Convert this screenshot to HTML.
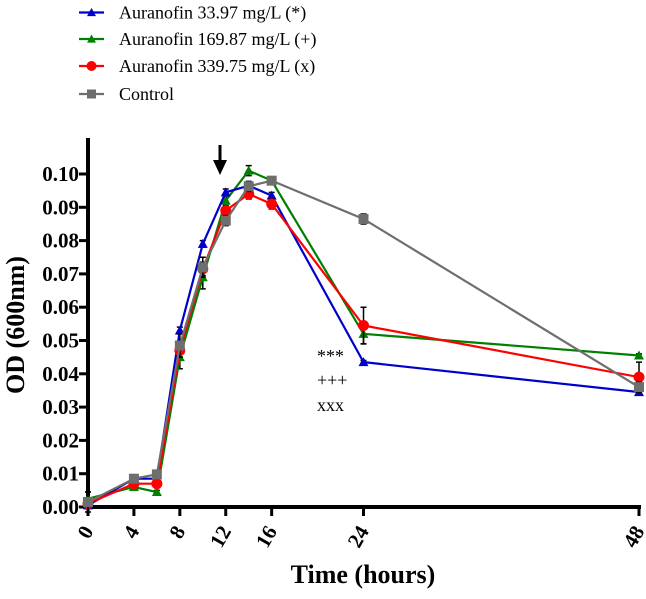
<!DOCTYPE html>
<html><head><meta charset="utf-8"><style>
html,body{margin:0;padding:0;background:#fff;}
svg{display:block;}
text{font-family:"Liberation Serif",serif;}
</style></head><body>
<svg id="chart" width="646" height="599" viewBox="0 0 646 599"></svg>
<script>
const hours = [0,4,6,8,10,12,14,16,24,48];
const xTicks = [0,4,8,12,16,24,48];
const yTicks = [0,0.01,0.02,0.03,0.04,0.05,0.06,0.07,0.08,0.09,0.10];
const seriesNames = ["Auranofin 33.97 mg/L (*)","Auranofin 169.87 mg/L (+)","Auranofin 339.75 mg/L (x)","Control"];
const blueVals = [0.0005,0.0085,0.0085,0.053,0.079,0.0945,0.0965,0.0935,0.0435,0.0345];
const greenVals = [0.0025,0.006,0.0045,0.045,0.069,0.092,0.101,0.098,0.052,0.0455];
const redVals = [0.001,0.007,0.007,0.047,0.0715,0.089,0.094,0.091,0.0545,0.039];
const grayVals = [0.0015,0.0085,0.0098,0.0485,0.072,0.086,0.0963,0.098,0.0865,0.036];
const blueErr = [0.001,0.0005,0.0005,0.001,0.001,0.001,0.001,0.001,0.0005,0.0005];
const greenErr = [0.002,0.0005,0.0005,0.0035,0.0035,0.001,0.0015,0.001,0.003,0.0005];
const redErr = [0.001,0.0005,0.0005,0.002,0.002,0.0015,0.0015,0.0015,0.0055,0.0045];
const grayErr = [0.003,0.0005,0.001,0.0035,0.003,0.0015,0.0015,0.001,0.0015,0.0015];

const svg = document.getElementById('chart');
const NS = 'http://www.w3.org/2000/svg';
const X0 = 88, XS = (639-88)/48;
const Y0 = 507, YS = 33.3/0.01;
const xs = h => X0 + h*XS;
const ys = v => Y0 - v*YS;
function mk(tag, attrs, parent){
  const e = document.createElementNS(NS, tag);
  for (const k in attrs) e.setAttribute(k, attrs[k]);
  (parent||svg).appendChild(e);
  return e;
}
let e;
e = mk('line',{x1:X0,y1:138,x2:X0,y2:Y0+2,stroke:'#000','stroke-width':4});
 
e = mk('line',{x1:X0-2,y1:Y0,x2:641,y2:Y0,stroke:'#000','stroke-width':4});
 
yTicks.forEach(v=>{
  const y = ys(v);
  const t = mk('line',{x1:X0-9,y1:y,x2:X0,y2:y,stroke:'#000','stroke-width':3});
   
  const l = mk('text',{x:X0-9,y:y+7,'text-anchor':'end','font-size':21,'font-weight':'bold'});
  l.textContent = v.toFixed(2);
   
});
xTicks.forEach(h=>{
  const x = xs(h);
  const t = mk('line',{x1:x,y1:Y0,x2:x,y2:Y0+9,stroke:'#000','stroke-width':3});
   
  const l = mk('text',{x:x+6,y:Y0+24,'text-anchor':'end','font-size':21,'font-weight':'bold',transform:`rotate(-60 ${x+6} ${Y0+24})`});
  l.textContent = h;
   
});
e = mk('text',{x:363,y:583,'text-anchor':'middle','font-size':26,'font-weight':'bold'});
e.textContent='Time (hours)';
 
e = mk('text',{x:0,y:0,'text-anchor':'middle','font-size':26,'font-weight':'bold',transform:'translate(24 325) rotate(-90)'});
e.textContent='OD (600nm)';
 

const series = [
  {vals:blueVals, err:blueErr, color:'#0000cc', mark:'tri'},
  {vals:greenVals, err:greenErr, color:'#008000', mark:'tri'},
  {vals:redVals, err:redErr, color:'#ff0000', mark:'circ'},
  {vals:grayVals, err:grayErr, color:'#6e6e6e', mark:'sq'}
];
function marker(m, x, y, c, parent, big){
  const s = big||1;
  if (m==='tri') return mk('polygon',{points:`${x},${y-5*s} ${x-5*s},${y+4*s} ${x+5*s},${y+4*s}`,fill:c},parent);
  if (m==='circ') return mk('circle',{cx:x,cy:y,r:5.5*s,fill:c},parent);
  return mk('rect',{x:x-5*s,y:y-5*s,width:10*s,height:10*s,fill:c},parent);
}
[1,0,2,3].forEach(i=>{
  const s = series[i];
  const g = mk('g',{});
  
  
  s.vals.forEach((v,j)=>{
    const x = xs(hours[j]), y1 = ys(v+s.err[j]), y2 = ys(v-s.err[j]);
    const eb = mk('path',{d:`M${x},${y1}V${y2}M${x-3},${y1}H${x+3}M${x-3},${y2}H${x+3}`,stroke:'#000','stroke-width':1.5,fill:'none'},g);
     
  });
  const pts = s.vals.map((v,j)=>`${xs(hours[j])},${ys(v)}`).join(' ');
  const pl = mk('polyline',{points:pts,fill:'none',stroke:s.color,'stroke-width':2.2},g);
   
  s.vals.forEach((v,j)=>{
    const m = marker(s.mark, xs(hours[j]), ys(v), s.color, g);
     
  });
});
const legY = [12.5,39,66,94];
series.forEach((s,i)=>{
  const g = mk('g',{});
   
  mk('line',{x1:79,y1:legY[i],x2:104,y2:legY[i],stroke:s.color,'stroke-width':2.2},g);
  marker(s.mark,91.5,legY[i],s.color,g,0.9);
  const t = mk('text',{x:119,y:legY[i]+6,'font-size':18},g);
  t.textContent = seriesNames[i];
});
e = mk('path',{d:`M${xs(11.5)},145V166`,stroke:'#000','stroke-width':3});
 
e = mk('polygon',{points:`${xs(11.5)-7},160 ${xs(11.5)+7},160 ${xs(11.5)},175`,fill:'#000'});
 
[['***',362],['+++',386],['xxx',411]].forEach(([s,y])=>{
  const t = mk('text',{x:317,y:y,'font-size':18});
  t.textContent = s;
   
});
</script>
</body></html>
